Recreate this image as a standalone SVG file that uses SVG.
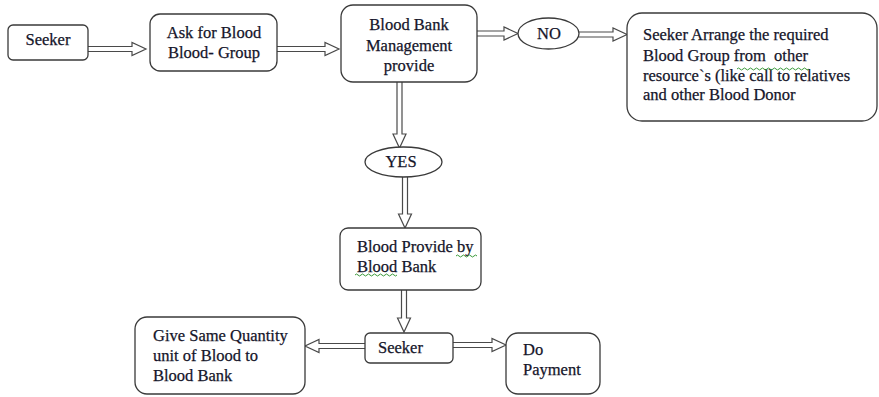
<svg xmlns="http://www.w3.org/2000/svg" width="879" height="397" viewBox="0 0 879 397">
<style>
.box{fill:#fff;stroke:#3a3a3a;stroke-width:1.3}
.arr{fill:#fff;stroke:#4a4a4a;stroke-width:1.2;stroke-linejoin:miter}
text{font-family:"Liberation Serif","Times New Roman",serif;font-size:16.5px;fill:#15152a;stroke:#15152a;stroke-width:0.25}
.c{text-anchor:middle}
.sq{fill:none;stroke:#3a9a3a;stroke-width:1}
</style>
<rect width="879" height="397" fill="#fff"/>
<g id="connectors">
<path class="arr" d="M88,46.5 H132 V42.5 L146,49 L132,55.5 V51.5 H88"/>
<path class="arr" d="M277,46.5 H325 V42.5 L339,49 L325,55.5 V51.5 H277"/>
<path class="arr" d="M477,31 H504 V27 L518,33.5 L504,40 V36 H477"/>
<path class="arr" d="M579,32 H613 V28 L627,34.5 L613,41 V37 H579"/>
<path class="arr" d="M397,82 V134 H393 L399.5,148 L406,134 H402 V82"/>
<path class="arr" d="M402.5,177 V214 H398.5 L405,228 L411.5,214 H407.5 V177"/>
<path class="arr" d="M401.5,290 V318 H397.5 L404,332 L410.5,318 H406.5 V290"/>
<path class="arr" d="M365,343.5 H319 V339.5 L305,346 L319,352.5 V348.5 H365"/>
<path class="arr" d="M453,342.5 H492 V338.5 L506,345 L492,351.5 V347.5 H453"/>
</g>
<g id="seeker1">
<rect class="box" x="8" y="25" width="80" height="35" rx="5"/>
<text class="c" x="48" y="45">Seeker</text>
</g>
<g id="ask">
<rect class="box" x="150" y="14" width="127" height="57" rx="10"/>
<text class="c" x="214" y="38">Ask for Blood</text>
<text class="c" x="214" y="58">Blood- Group</text>
</g>
<g id="bbm">
<rect class="box" x="341" y="5" width="136" height="77" rx="12"/>
<text class="c" x="409" y="30">Blood Bank</text>
<text class="c" x="409" y="51">Management</text>
<text class="c" x="409" y="71">provide</text>
</g>
<g id="no">
<ellipse class="box" cx="548.5" cy="33.5" rx="30.5" ry="15.5"/>
<text class="c" x="549" y="38.5">NO</text>
</g>
<g id="arrange">
<rect class="box" x="627" y="13" width="250" height="108" rx="15"/>
<text x="643" y="40">Seeker Arrange the required</text>
<text x="643" y="61">Blood Group from&#160; other</text>
<text x="643" y="81">resource`s (like call to relatives</text>
<text x="643" y="100">and other Blood Donor</text>
<path class="sq" d="M737,69 q1.5,-2 3,0 t3,0 t3,0 t3,0 t3,0 t3,0 t3,0 t3,0 t3,0 t3,0 t3,0 t3,0 t3,0 t3,0 t3,0 t3,0 t3,0 t3,0 t3,0 t3,0 t3,0 t3,0 t3,0 t3,0"/>
</g>
<g id="yes">
<ellipse class="box" cx="403.5" cy="162" rx="38.5" ry="15"/>
<text class="c" x="401" y="167">YES</text>
</g>
<g id="provide">
<rect class="box" x="340" y="228" width="141" height="62" rx="8"/>
<text x="357" y="252">Blood Provide by</text>
<text x="357" y="272">Blood Bank</text>
<path class="sq" d="M456,256 q1.5,-2 3,0 t3,0 t3,0 t3,0 t3,0 t3,0 t3,0"/>
<path class="sq" d="M355,275 q1.5,-2 3,0 t3,0 t3,0 t3,0 t3,0 t3,0 t3,0 t3,0 t3,0 t3,0 t3,0 t3,0 t3,0 t3,0"/>
</g>
<g id="seeker2">
<rect class="box" x="365" y="333" width="88" height="30" rx="5"/>
<text x="378" y="353">Seeker</text>
</g>
<g id="give">
<rect class="box" x="135" y="317" width="170" height="77" rx="12"/>
<text x="153" y="341">Give Same Quantity</text>
<text x="153" y="361">unit of Blood to</text>
<text x="153" y="381">Blood Bank</text>
</g>
<g id="pay">
<rect class="box" x="506" y="333" width="94" height="61" rx="12"/>
<text x="523" y="355">Do</text>
<text x="523" y="375">Payment</text>
</g>
</svg>
